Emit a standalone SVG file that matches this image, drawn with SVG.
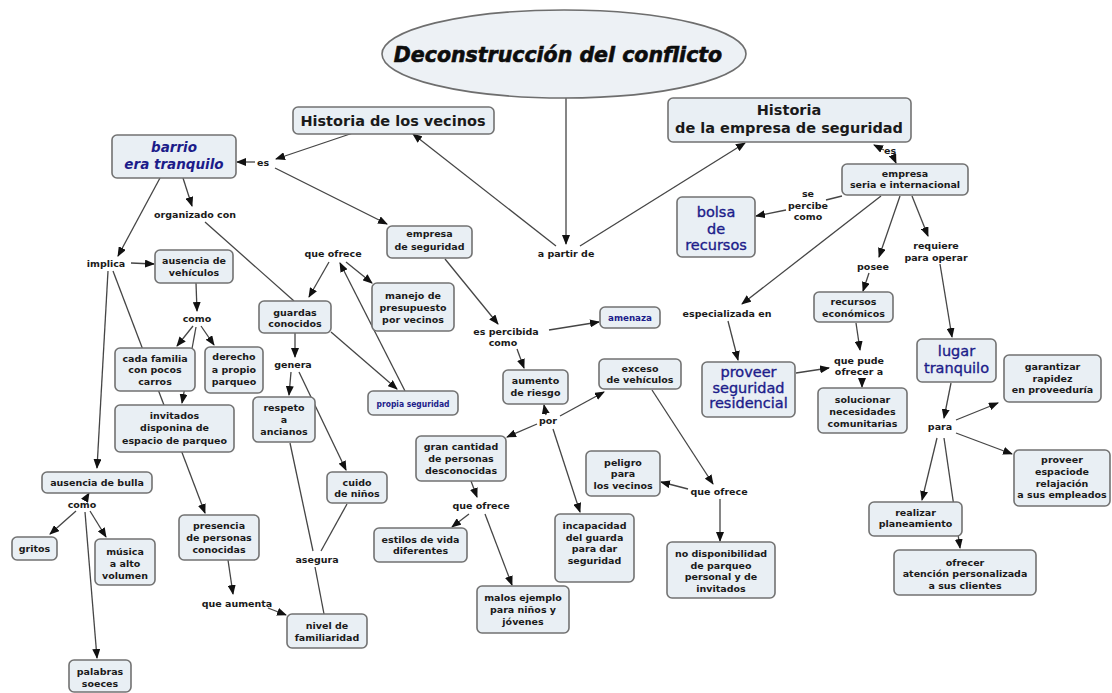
<svg xmlns="http://www.w3.org/2000/svg" width="1112" height="693" viewBox="0 0 1112 693">
<style>
.bx{fill:#e9eff4;stroke:#727272;stroke-width:1.6}
.t{font-family:"DejaVu Sans",Verdana,sans-serif;font-weight:bold;font-size:9.5px;fill:#1a1a1a;text-anchor:middle}
.l{font-family:"DejaVu Sans",Verdana,sans-serif;font-weight:bold;font-size:9.5px;fill:#1a1a1a;text-anchor:middle}
.h{font-family:"DejaVu Sans",Verdana,sans-serif;font-weight:bold;font-size:14.5px;fill:#1a1a1a;text-anchor:middle}
.b{font-family:"DejaVu Sans",Verdana,sans-serif;font-size:14.5px;fill:#1c1c8a;stroke:#1c1c8a;stroke-width:0.35;text-anchor:middle}
.bs{font-family:"DejaVu Sans",Verdana,sans-serif;font-weight:bold;font-size:9px;fill:#1c1c8a;text-anchor:middle}
.bi{font-family:"DejaVu Sans",Verdana,sans-serif;font-weight:bold;font-style:italic;font-size:13.5px;fill:#1c1c8a;text-anchor:middle}
#conn line{stroke:#454545;stroke-width:1.3;fill:none}
#conn line.a{marker-end:url(#ah)}
</style>
<defs>
<marker id="ah" markerUnits="userSpaceOnUse" markerWidth="10" markerHeight="8" refX="9" refY="4" orient="auto">
<path d="M0,0 L10,4 L0,8 z" fill="#111"/>
</marker>
</defs>
<rect width="1112" height="693" fill="#ffffff"/>
<g id="conn">
<line class="a" x1="566" y1="98" x2="566" y2="244"/>
<line class="a" x1="556" y1="246" x2="413" y2="134"/>
<line class="a" x1="580" y1="246" x2="745" y2="143"/>
<line class="a" x1="353" y1="133" x2="276" y2="159"/>
<line class="a" x1="255" y1="162" x2="237" y2="162"/>
<line class="a" x1="275" y1="168" x2="387" y2="224"/>
<line class="a" x1="183" y1="178" x2="192" y2="206"/>
<line x1="205" y1="222" x2="294" y2="301"/>
<line class="a" x1="160" y1="178" x2="118" y2="256"/>
<line class="a" x1="131" y1="263" x2="154" y2="264"/>
<line class="a" x1="108" y1="271" x2="97" y2="468"/>
<line class="a" x1="113" y1="271" x2="205" y2="513"/>
<line class="a" x1="196" y1="283" x2="197" y2="311"/>
<line class="a" x1="193" y1="326" x2="177" y2="346"/>
<line class="a" x1="201" y1="326" x2="214" y2="345"/>
<line class="a" x1="196" y1="327" x2="182" y2="403"/>
<line class="a" x1="85" y1="500" x2="89" y2="493"/>
<line class="a" x1="76" y1="511" x2="50" y2="534"/>
<line class="a" x1="90" y1="511" x2="106" y2="537"/>
<line class="a" x1="85" y1="512" x2="97" y2="658"/>
<line class="a" x1="228" y1="560" x2="233" y2="594"/>
<line class="a" x1="268" y1="608" x2="286" y2="615"/>
<line class="a" x1="295" y1="333" x2="295" y2="357"/>
<line class="a" x1="291" y1="372" x2="289" y2="395"/>
<line class="a" x1="299" y1="372" x2="346" y2="470"/>
<line x1="290" y1="443" x2="313" y2="551"/>
<line x1="315" y1="567" x2="324" y2="614"/>
<line x1="347" y1="504" x2="321" y2="551"/>
<line class="a" x1="329" y1="262" x2="309" y2="297"/>
<line class="a" x1="346" y1="262" x2="372" y2="283"/>
<line class="a" x1="331" y1="332" x2="397" y2="389"/>
<line class="a" x1="405" y1="391" x2="340" y2="263"/>
<line class="a" x1="445" y1="259" x2="498" y2="324"/>
<line class="a" x1="549" y1="330" x2="599" y2="322"/>
<line class="a" x1="517" y1="349" x2="524" y2="368"/>
<line class="a" x1="546" y1="415" x2="544" y2="405"/>
<line class="a" x1="560" y1="416" x2="604" y2="392"/>
<line class="a" x1="537" y1="424" x2="507" y2="437"/>
<line class="a" x1="553" y1="429" x2="580" y2="512"/>
<line class="a" x1="471" y1="481" x2="477" y2="497"/>
<line class="a" x1="469" y1="514" x2="452" y2="527"/>
<line class="a" x1="485" y1="514" x2="512" y2="585"/>
<line class="a" x1="652" y1="390" x2="713" y2="484"/>
<line class="a" x1="688" y1="489" x2="661" y2="482"/>
<line class="a" x1="720" y1="499" x2="720" y2="541"/>
<line class="a" x1="884" y1="150" x2="874" y2="145"/>
<line class="a" x1="893" y1="156" x2="896" y2="163"/>
<line x1="842" y1="196" x2="826" y2="200"/>
<line class="a" x1="786" y1="210" x2="756" y2="216"/>
<line class="a" x1="881" y1="196" x2="742" y2="304"/>
<line class="a" x1="728" y1="321" x2="738" y2="360"/>
<line class="a" x1="796" y1="373" x2="829" y2="368"/>
<line class="a" x1="900" y1="196" x2="879" y2="257"/>
<line class="a" x1="869" y1="273" x2="863" y2="291"/>
<line class="a" x1="856" y1="323" x2="860" y2="350"/>
<line class="a" x1="862" y1="378" x2="862" y2="387"/>
<line class="a" x1="912" y1="196" x2="928" y2="236"/>
<line class="a" x1="940" y1="264" x2="952" y2="337"/>
<line class="a" x1="951" y1="383" x2="944" y2="418"/>
<line class="a" x1="956" y1="420" x2="998" y2="403"/>
<line class="a" x1="956" y1="433" x2="1012" y2="454"/>
<line class="a" x1="937" y1="438" x2="922" y2="500"/>
<line class="a" x1="944" y1="438" x2="960" y2="548"/>
</g>
<g id="labels">
<text class="l" x="566" y="257">a partir de</text>
<text class="l" x="263" y="166">es</text>
<text class="l" x="195" y="218">organizado con</text>
<text class="l" x="106" y="267">implica</text>
<text class="l" x="197" y="322">como</text>
<text class="l" x="82" y="508">como</text>
<text class="l" x="237" y="607">que aumenta</text>
<text class="l" x="293" y="368">genera</text>
<text class="l" x="317" y="563">asegura</text>
<text class="l" x="333" y="257">que ofrece</text>
<text class="l" x="506" y="335">es percibida</text>
<text class="l" x="503" y="346">como</text>
<text class="l" x="548" y="424">por</text>
<text class="l" x="481" y="509">que ofrece</text>
<text class="l" x="719" y="495">que ofrece</text>
<text class="l" x="890" y="154">es</text>
<text class="l" x="808" y="197">se</text>
<text class="l" x="808" y="209">percibe</text>
<text class="l" x="808" y="220">como</text>
<text class="l" x="727" y="317">especializada en</text>
<text class="l" x="873" y="270">posee</text>
<text class="l" x="936" y="249">requiere</text>
<text class="l" x="936" y="261">para operar</text>
<text class="l" x="859" y="364">que pude</text>
<text class="l" x="859" y="375">ofrecer a</text>
<text class="l" x="940" y="430">para</text>
</g>
<g id="n-title"><ellipse cx="564" cy="54" rx="182" ry="44" fill="#edf1f5" stroke="#6e6e6e" stroke-width="1.6"/><text x="558" y="62" font-family="DejaVu Sans,Verdana,sans-serif" font-weight="bold" font-style="italic" font-size="20.5" fill="#0d0d0d" stroke="#0d0d0d" stroke-width="0.6" text-anchor="middle">Deconstrucción del conflicto</text></g>
<g id="n-hv"><rect class="bx" x="293" y="107" width="201" height="27" rx="5"/><text class="h" x="393" y="126">Historia de los vecinos</text></g>
<g id="n-he"><rect class="bx" x="668" y="98" width="243" height="44" rx="5"/><text class="h" x="789" y="115">Historia</text><text class="h" x="789" y="133">de la empresa de seguridad</text></g>
<g id="n-barrio"><rect class="bx" x="112" y="135" width="124" height="43" rx="5"/><text class="bi" x="174" y="152">barrio</text><text class="bi" x="174" y="169">era tranquilo</text></g>
<g id="n-empseg"><rect class="bx" x="387" y="226" width="85" height="32" rx="5"/><text class="t" x="429.5" y="237">empresa</text><text class="t" x="429.5" y="250">de seguridad</text></g>
<g id="n-manejo"><rect class="bx" x="372" y="283" width="82" height="48" rx="5"/><text class="t" x="413" y="298.5">manejo de</text><text class="t" x="413" y="310.5">presupuesto</text><text class="t" x="413" y="322.5">por vecinos</text></g>
<g id="n-guardas"><rect class="bx" x="259" y="301" width="72" height="32" rx="5"/><text class="t" x="295" y="315.5">guardas</text><text class="t" x="295" y="326.5">conocidos</text></g>
<g id="n-propia"><rect class="bx" x="368" y="391" width="90" height="24" rx="5"/><text class="bs" x="413" y="406.5" textLength="73" lengthAdjust="spacingAndGlyphs">propia seguridad</text></g>
<g id="n-amenaza"><rect class="bx" x="600" y="307" width="60" height="21" rx="5"/><text class="bs" x="630" y="320.5" textLength="44" lengthAdjust="spacingAndGlyphs">amenaza</text></g>
<g id="n-aumento"><rect class="bx" x="503" y="370" width="65" height="34" rx="5"/><text class="t" x="535.5" y="383.5">aumento</text><text class="t" x="535.5" y="395.5">de riesgo</text></g>
<g id="n-exceso"><rect class="bx" x="599" y="359" width="82" height="30" rx="5"/><text class="t" x="640" y="371.5">exceso</text><text class="t" x="640" y="382.5">de vehículos</text></g>
<g id="n-gran"><rect class="bx" x="416" y="436" width="90" height="45" rx="5"/><text class="t" x="461" y="449.5">gran cantidad</text><text class="t" x="461" y="461.5">de personas</text><text class="t" x="461" y="473.5">desconocidas</text></g>
<g id="n-estilos"><rect class="bx" x="374" y="528" width="93" height="34" rx="5"/><text class="t" x="420.5" y="542.5">estilos de vida</text><text class="t" x="420.5" y="553.5">diferentes</text></g>
<g id="n-malos"><rect class="bx" x="477" y="586" width="92" height="47" rx="5"/><text class="t" x="523" y="600.5">malos ejemplo</text><text class="t" x="523" y="612.5">para niños y</text><text class="t" x="523" y="624.5">jóvenes</text></g>
<g id="n-incap"><rect class="bx" x="555" y="514" width="79" height="68" rx="5"/><text class="t" x="594.5" y="528.5">incapacidad</text><text class="t" x="594.5" y="540.5">del guarda</text><text class="t" x="594.5" y="551.5">para dar</text><text class="t" x="594.5" y="563.5">seguridad</text></g>
<g id="n-peligro"><rect class="bx" x="586" y="451" width="74" height="45" rx="5"/><text class="t" x="623" y="465.5">peligro</text><text class="t" x="623" y="476.5">para</text><text class="t" x="623" y="488.5">los vecinos</text></g>
<g id="n-nodisp"><rect class="bx" x="667" y="542" width="108" height="56" rx="5"/><text class="t" x="721" y="556.5">no disponibilidad</text><text class="t" x="721" y="568.5">de parqueo</text><text class="t" x="721" y="579.5">personal y de</text><text class="t" x="721" y="591.5">invitados</text></g>
<g id="n-bolsa"><rect class="bx" x="677" y="197" width="78" height="60" rx="5"/><text class="b" x="716" y="217">bolsa</text><text class="b" x="716" y="234">de</text><text class="b" x="716" y="250">recursos</text></g>
<g id="n-seria"><rect class="bx" x="842" y="164" width="126" height="31" rx="5"/><text class="t" x="905" y="176.5">empresa</text><text class="t" x="905" y="187.5">seria e internacional</text></g>
<g id="n-proveer"><rect class="bx" x="702" y="362" width="93" height="55" rx="5"/><text class="b" x="748.5" y="377">proveer</text><text class="b" x="748.5" y="393">seguridad</text><text class="b" x="748.5" y="408">residencial</text></g>
<g id="n-recursos"><rect class="bx" x="814" y="292" width="79" height="30" rx="5"/><text class="t" x="853.5" y="305">recursos</text><text class="t" x="853.5" y="316.5">económicos</text></g>
<g id="n-soluc"><rect class="bx" x="818" y="388" width="89" height="45" rx="5"/><text class="t" x="862.5" y="402.5">solucionar</text><text class="t" x="862.5" y="414.5">necesidades</text><text class="t" x="862.5" y="426.5">comunitarias</text></g>
<g id="n-lugar"><rect class="bx" x="917" y="339" width="79" height="43" rx="5"/><text class="b" x="956.5" y="356">lugar</text><text class="b" x="956.5" y="373">tranquilo</text></g>
<g id="n-garant"><rect class="bx" x="1004" y="355" width="97" height="47" rx="5"/><text class="t" x="1052.5" y="369.5">garantizar</text><text class="t" x="1052.5" y="381.5">rapidez</text><text class="t" x="1052.5" y="392.5">en proveeduría</text></g>
<g id="n-espacio"><rect class="bx" x="1014" y="450" width="96" height="56" rx="5"/><text class="t" x="1062" y="462.5">proveer</text><text class="t" x="1062" y="474.5">espaciode</text><text class="t" x="1062" y="486.5">relajación</text><text class="t" x="1062" y="497.5">a sus empleados</text></g>
<g id="n-realizar"><rect class="bx" x="869" y="502" width="93" height="34" rx="5"/><text class="t" x="915.5" y="515.5">realizar</text><text class="t" x="915.5" y="526.5">planeamiento</text></g>
<g id="n-atencion"><rect class="bx" x="894" y="550" width="142" height="45" rx="5"/><text class="t" x="965" y="565.5">ofrecer</text><text class="t" x="965" y="576.5">atención personalizada</text><text class="t" x="965" y="588.5">a sus clientes</text></g>
<g id="n-ausveh"><rect class="bx" x="155" y="250" width="78" height="33" rx="5"/><text class="t" x="194" y="263.5">ausencia de</text><text class="t" x="194" y="275.5">vehículos</text></g>
<g id="n-cada"><rect class="bx" x="115" y="348" width="80" height="43" rx="5"/><text class="t" x="155" y="361.5">cada familia</text><text class="t" x="155" y="372.5">con pocos</text><text class="t" x="155" y="384.5">carros</text></g>
<g id="n-derecho"><rect class="bx" x="205" y="347" width="58" height="46" rx="5"/><text class="t" x="234" y="359.5">derecho</text><text class="t" x="234" y="372.5">a propio</text><text class="t" x="234" y="384.5">parqueo</text></g>
<g id="n-invitados"><rect class="bx" x="115" y="405" width="119" height="47" rx="5"/><text class="t" x="174.5" y="418.5">invitados</text><text class="t" x="174.5" y="430.5">disponina de</text><text class="t" x="174.5" y="443.5">espacio de parqueo</text></g>
<g id="n-respeto"><rect class="bx" x="253" y="397" width="62" height="45" rx="5"/><text class="t" x="284" y="410.5">respeto</text><text class="t" x="284" y="422.5">a</text><text class="t" x="284" y="434.5">ancianos</text></g>
<g id="n-cuido"><rect class="bx" x="327" y="472" width="60" height="31" rx="5"/><text class="t" x="357" y="485.5">cuido</text><text class="t" x="357" y="496.5">de niños</text></g>
<g id="n-nivel"><rect class="bx" x="287" y="614" width="80" height="34" rx="5"/><text class="t" x="327" y="628.5">nivel de</text><text class="t" x="327" y="640.5">familiaridad</text></g>
<g id="n-presencia"><rect class="bx" x="179" y="515" width="80" height="45" rx="5"/><text class="t" x="219" y="528.5">presencia</text><text class="t" x="219" y="540.5">de personas</text><text class="t" x="219" y="552.5">conocidas</text></g>
<g id="n-bulla"><rect class="bx" x="42" y="472" width="110" height="21" rx="5"/><text class="t" x="97" y="485.5">ausencia de bulla</text></g>
<g id="n-gritos"><rect class="bx" x="12" y="537" width="45" height="23" rx="5"/><text class="t" x="34.5" y="551.5">gritos</text></g>
<g id="n-musica"><rect class="bx" x="95" y="539" width="60" height="46" rx="5"/><text class="t" x="125" y="554.5">música</text><text class="t" x="125" y="566.5">a alto</text><text class="t" x="125" y="578.5">volumen</text></g>
<g id="n-palabras"><rect class="bx" x="69" y="660" width="62" height="32" rx="5"/><text class="t" x="100" y="674.5">palabras</text><text class="t" x="100" y="686.5">soeces</text></g>
</svg>
